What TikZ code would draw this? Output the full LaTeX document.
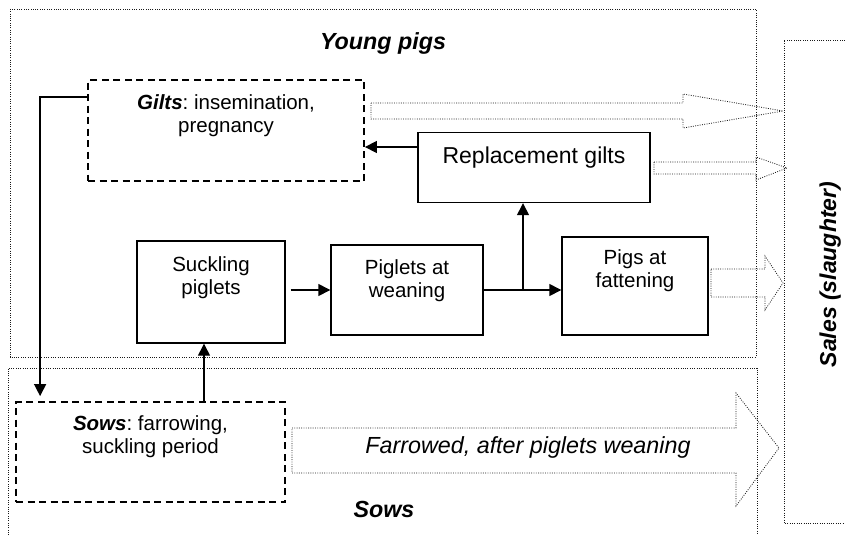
\documentclass[tikz,border=0pt]{standalone}
\usepackage{fontspec}
\setmainfont{Liberation Sans}
\usetikzlibrary{positioning,arrows.meta}

\tikzset{
  box/.style={draw, line width=1.4pt, inner sep=0pt},
  dbox/.style={draw, line width=1.8pt, dash pattern=on 7pt off 4.5pt, inner sep=0pt},
  lbl/.style={inner sep=0pt, align=center, font=\fontsize{20.5}{23.5}\selectfont\frenchspacing},
  conn/.style={line width=1.4pt, -{Triangle[length=12pt,width=12pt]}},
  area/.style={line width=0.8pt, black!90, dash pattern=on 0.9pt off 1.4pt},
  flow/.style={area, line join=miter},
  title/.style={inner sep=0pt, anchor=base, font=\fontsize{23.3}{28}\selectfont\bfseries\itshape},
}

\begin{document}
\begin{tikzpicture}[x=1pt,y=-1pt]
\useasboundingbox (0,0) rectangle (845,535);

% areas
\draw[area] (10,9) rectangle (756,357);
\draw[area] (8,535) -- (8,368) -- (757,368) -- (757,535);
\draw[area] (845,40) -- (784,40) -- (784,523) -- (845,523);

% boxes
\node[dbox, minimum width=276pt, minimum height=101pt] (gilts) at (226,130.5) {};
\node[dbox, minimum width=269pt, minimum height=100pt] (sows) at (150.5,452) {};
\node[box, minimum width=148pt, minimum height=102pt] (suck) at (211,292) {};
\node[box, minimum width=152pt, minimum height=90pt] (wean) at (407,290) {};
\node[box, minimum width=232pt, minimum height=70pt] (rep) at (534,167.5) {};
\node[box, minimum width=146pt, minimum height=98pt] (fat) at (635,286) {};

% box texts
\node[lbl, below=15pt of gilts.north] (giltsT) {\textbf{\textit{Gilts}}: insemination,\\pregnancy};
\node[lbl, below=14pt of sows.north] (sowsB) {\textbf{\textit{Sows}}: farrowing,\\suckling period};
\node[lbl, below=16pt of suck.north] (suckT) {Suckling\\piglets};
\node[lbl, below=15pt of wean.north] (weanT) {Piglets at\\weaning};
\node[lbl, below=15pt of rep.north, font=\fontsize{23}{27}\selectfont] (repT) {Replacement gilts};
\node[lbl, below=13pt of fat.north] (fatT) {Pigs at\\fattening};

% titles
\node[title] (young) at (383,50) {Young pigs};
\node[title] (sowsL) at (384,517) {Sows};
\node[title, font=\fontsize{23}{28}\selectfont\bfseries\itshape, rotate=90] (sales) at (836,274.5) {Sales (slaughter)};

% sales flows
\draw[flow] (371,103) -- (683,103) -- (683,94) -- (783,111) -- (683,128) -- (683,119) -- (371,119) -- cycle;
\draw[flow] (654,162) -- (756,162) -- (756,157) -- (787,168) -- (756,180) -- (756,174) -- (654,174) -- cycle;
\draw[flow] (711,269) -- (765,269) -- (765,256) -- (783,283) -- (765,310) -- (765,297) -- (711,297) -- cycle;
\draw[flow] (292,428) -- (736,428) -- (736,393) -- (779,448) -- (736,506) -- (736,473) -- (292,473) -- cycle;
\node[inner sep=0pt, anchor=base, font=\fontsize{23.3}{28}\selectfont\itshape] (farr) at (528,453) {Farrowed, after piglets weaning};

% connectors
\draw[conn, shorten >=5pt] ([yshift=33.5pt]gilts.west) -| ([xshift=25pt]sows.north west);
\draw[conn] ([xshift=-7pt]suck.south |- sows.north) -- ([xshift=-7pt]suck.south);
\draw[conn] ([xshift=5pt]suck.east |- wean.west) -- (wean.west);
\draw[conn] (wean.east) -- (wean.east -| fat.west);
\coordinate (split) at ([xshift=-11pt]rep.south |- wean.east);
\draw[conn] (split) -- (split |- rep.south);
\draw[conn] ([yshift=20.5pt]rep.west) -- ([yshift=20.5pt]rep.west -| gilts.east);
\end{tikzpicture}
\end{document}
